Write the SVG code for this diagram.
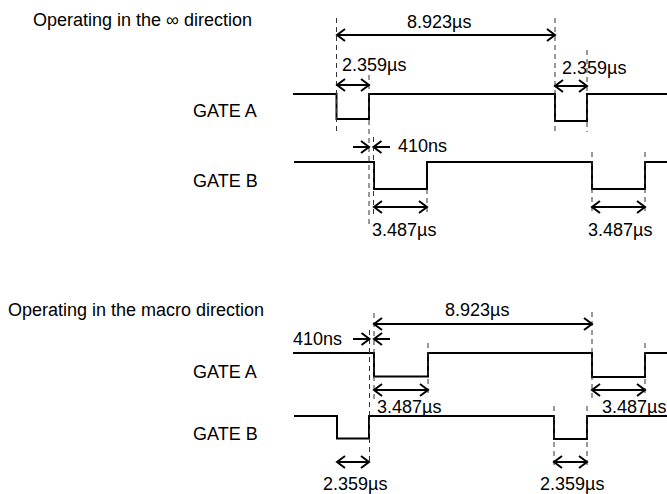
<svg xmlns="http://www.w3.org/2000/svg" width="667" height="494" viewBox="0 0 667 494">
<style>
text{font-family:"Liberation Sans",Arial,sans-serif;font-size:18px;fill:#000}
.sig{fill:none;stroke:#000;stroke-width:2;stroke-linejoin:miter}
.dash{stroke:#333;stroke-width:1;stroke-dasharray:5 4;fill:none}
.dim{stroke:#000;stroke-width:2;fill:none;marker-end:url(#ah)}
.dim2{stroke:#000;stroke-width:2;fill:none;marker-start:url(#ah);marker-end:url(#ah)}
</style>
<defs>
<marker id="ah" markerUnits="userSpaceOnUse" viewBox="-10 -8 12 16" refX="0" refY="0" markerWidth="12" markerHeight="16" orient="auto-start-reverse" overflow="visible">
<path d="M-8,-6 L0,0 L-8,6" fill="none" stroke="#000" stroke-width="2"/>
</marker>
</defs>
<rect width="667" height="494" fill="#fff"/>

<g id="top-title"><text x="33" y="26">Operating in the ∞ direction</text></g>
<g id="top-gate-a">
<text x="193" y="117">GATE A</text>
<path class="sig" d="M293,94 H336.5 V119 H369 V94 H555 V121 H587 V94 H667"/>
</g>
<g id="top-gate-b">
<text x="193" y="187">GATE B</text>
<path class="sig" d="M294,162 H374 V189 H427 V162 H592 V189 H645 V162 H667"/>
</g>

<g id="bottom-title"><text x="8" y="316">Operating in the macro direction</text></g>
<g id="bottom-gate-a">
<text x="193" y="378">GATE A</text>
<path class="sig" d="M293,353 H374 V376.5 H428 V353 H592 V377 H645 V353 H667"/>
</g>
<g id="bottom-gate-b">
<text x="193" y="440">GATE B</text>
<path class="sig" d="M294,416 H337 V438.5 H369 V416 H554 V439 H587 V416 H667"/>
</g>

<g id="guides">
<line class="dash" x1="336.5" y1="18" x2="336.5" y2="132"/>
<line class="dash" x1="555" y1="18" x2="555" y2="132"/>
<line class="dash" x1="369" y1="75" x2="369" y2="225"/>
<line class="dash" x1="373.5" y1="137" x2="373.5" y2="215"/>
<line class="dash" x1="587" y1="50" x2="587" y2="132"/>
<line class="dash" x1="427" y1="189" x2="427" y2="213"/>
<line class="dash" x1="592" y1="152" x2="592" y2="212"/>
<line class="dash" x1="645" y1="152" x2="645" y2="212"/>

<line class="dash" x1="374" y1="313" x2="374" y2="403"/>
<line class="dash" x1="369.5" y1="330" x2="369.5" y2="465"/>
<line class="dash" x1="592" y1="312" x2="592" y2="400"/>
<line class="dash" x1="428" y1="343" x2="428" y2="393"/>
<line class="dash" x1="645" y1="343" x2="645" y2="393"/>
<line class="dash" x1="554" y1="406" x2="554" y2="465"/>
<line class="dash" x1="587" y1="406" x2="587" y2="465"/>
</g>

<g id="connectors">
<line class="dim2" x1="337" y1="35" x2="555" y2="35"/>
<line class="dim2" x1="337" y1="85" x2="369" y2="85"/>
<line class="dim2" x1="555" y1="86" x2="587" y2="86"/>
<line class="dim" x1="353" y1="147" x2="369" y2="147"/>
<line class="dim" x1="390" y1="147" x2="373.5" y2="147"/>
<line class="dim2" x1="374" y1="207" x2="427" y2="207"/>
<line class="dim2" x1="592" y1="207" x2="645" y2="207"/>

<line class="dim2" x1="374" y1="324" x2="592" y2="324"/>
<line class="dim" x1="353" y1="339" x2="369.5" y2="339"/>
<line class="dim" x1="390" y1="339" x2="374" y2="339"/>
<line class="dim2" x1="374" y1="390" x2="428" y2="390"/>
<line class="dim2" x1="592" y1="390" x2="645" y2="390"/>
<line class="dim2" x1="337" y1="462" x2="369" y2="462"/>
<line class="dim2" x1="554" y1="462" x2="587" y2="462"/>
</g>

<g id="labels">
<text x="407" y="28">8.923µs</text>
<text x="342" y="71">2.359µs</text>
<text x="562" y="74">2.359µs</text>
<text x="398" y="152">410ns</text>
<text x="372" y="236">3.487µs</text>
<text x="588" y="236">3.487µs</text>
<text x="445" y="316">8.923µs</text>
<text x="293" y="345">410ns</text>
<text x="377" y="413">3.487µs</text>
<text x="602" y="413">3.487µs</text>
<text x="323" y="490">2.359µs</text>
<text x="540" y="490">2.359µs</text>
</g>
</svg>
